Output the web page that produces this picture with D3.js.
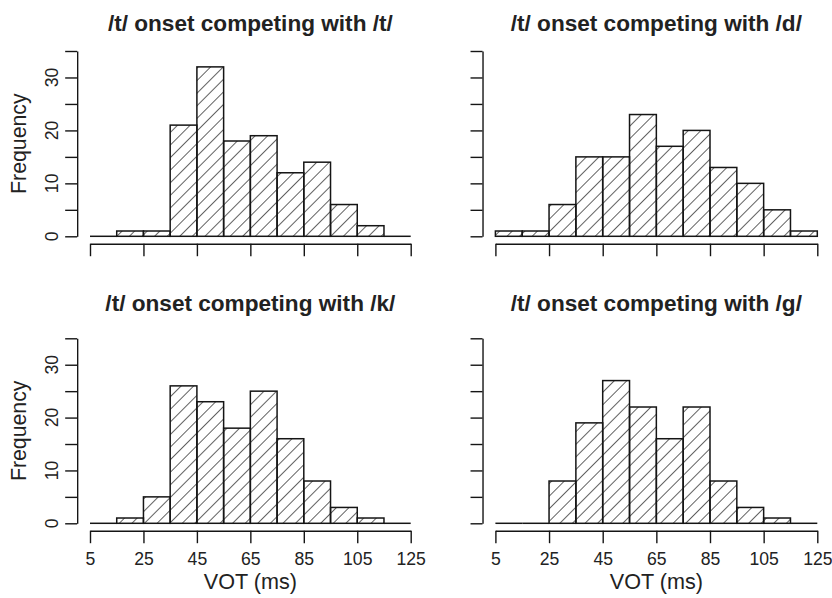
<!DOCTYPE html>
<html>
<head>
<meta charset="utf-8">
<script src="https://cdn.jsdelivr.net/npm/d3@7/dist/d3.min.js"></script>
<style>
  html, body { margin: 0; padding: 0; background: #fff; }
  svg { display: block; font-family: "Liberation Sans", Arial, Helvetica, sans-serif; }
</style>
</head>
<body>
<svg id="chart" width="832" height="598"></svg>
<script>
// ---- data ----
const breaks = [5, 15, 25, 35, 45, 55, 65, 75, 85, 95, 105, 115, 125];
const countsT = [0, 1, 1, 21, 32, 18, 19, 12, 14, 6, 2, 0];
const countsD = [1, 1, 6, 15, 15, 23, 17, 20, 13, 10, 5, 1];
const countsK = [0, 1, 5, 26, 23, 18, 25, 16, 8, 3, 1, 0];
const countsG = [0, 0, 8, 19, 27, 22, 16, 22, 8, 3, 1, 0];
const titles = ["/t/ onset competing with /t/", "/t/ onset competing with /d/",
                "/t/ onset competing with /k/", "/t/ onset competing with /g/"];
const xTicks = [5, 25, 45, 65, 85, 105, 125];
const yTicks = [0, 5, 10, 15, 20, 25, 30, 35];
const yLabels = [0, 10, 20, 30];
const xLabel = "VOT (ms)";
const yLabel = "Frequency";

const ink = "#151515";
const svg = d3.select("#chart");

// hatch pattern (45 degree lines)
const defs = svg.append("defs");
const pat = defs.append("pattern")
  .attr("id", "hatch")
  .attr("patternUnits", "userSpaceOnUse")
  .attr("width", 8.9).attr("height", 8.9)
  .attr("patternTransform", "rotate(45)");
pat.append("line")
  .attr("x1", 0).attr("y1", -1).attr("x2", 0).attr("y2", 10)
  .attr("stroke", ink).attr("stroke-width", 1.35);

const panels = [
  { counts: countsT, title: titles[0], x0: 90,    x1: 410.7, y0: 236.3, y1: 51.0,  left: true,  bottom: false },
  { counts: countsD, title: titles[1], x0: 495.4, x1: 817.3, y0: 236.3, y1: 51.0,  left: false, bottom: false },
  { counts: countsK, title: titles[2], x0: 90,    x1: 410.7, y0: 523.3, y1: 338.3, left: true,  bottom: true },
  { counts: countsG, title: titles[3], x0: 495.4, x1: 817.3, y0: 523.3, y1: 338.3, left: false, bottom: true }
];

panels.forEach(p => {
  const x = d3.scaleLinear().domain([5, 125]).range([p.x0, p.x1]);
  const y = d3.scaleLinear().domain([0, 35]).range([p.y0, p.y1]);
  const pxPerX = (p.x1 - p.x0) / 120;
  const pxPerY = (p.y0 - p.y1) / 35;
  const plotLeft = p.x0 - 4.8 * pxPerX;
  const plotRight = p.x1 + 4.8 * pxPerX;
  const plotBottom = p.y0 + 1.4 * pxPerY;
  const g = svg.append("g");

  const bins = p.counts.map((c, i) => ({ lo: breaks[i], hi: breaks[i + 1], c }));

  // bars
  g.selectAll("rect.bar").data(bins).enter().append("rect")
    .attr("class", "bar")
    .attr("x", d => x(d.lo))
    .attr("width", d => x(d.hi) - x(d.lo))
    .attr("y", d => y(d.c))
    .attr("height", d => y(0) - y(d.c))
    .attr("fill", "url(#hatch)")
    .attr("stroke", ink)
    .attr("stroke-width", 1.5);

  // zero-count bins: a line on the baseline
  g.selectAll("line.zero").data(bins.filter(d => d.c === 0)).enter().append("line")
    .attr("x1", d => x(d.lo)).attr("x2", d => x(d.hi))
    .attr("y1", y(0)).attr("y2", y(0))
    .attr("stroke", ink).attr("stroke-width", 1.5);

  // x axis
  const xAxis = d3.axisBottom(x).tickValues(xTicks).tickSize(12.5).tickSizeOuter(0)
    .tickFormat(p.bottom ? d3.format("d") : () => "");
  const gx = g.append("g").attr("transform", `translate(0,${plotBottom})`).call(xAxis);
  gx.select(".domain").attr("stroke", ink).attr("stroke-width", 1.4);
  gx.selectAll(".tick line").attr("stroke", ink).attr("stroke-width", 1.4);
  gx.selectAll(".tick text").attr("fill", "#222").attr("font-size", 17.6)
    .attr("dy", null).attr("y", 565.5 - plotBottom);

  // y axis
  const yAxis = d3.axisLeft(y).tickValues(yTicks).tickSize(12).tickSizeOuter(0).tickFormat(() => "");
  const gy = g.append("g").attr("transform", `translate(${plotLeft},0)`).call(yAxis);
  gy.select(".domain").attr("stroke", ink).attr("stroke-width", 1.4);
  gy.selectAll(".tick line").attr("stroke", ink).attr("stroke-width", 1.4);
  gy.selectAll(".tick text").remove();

  if (p.left) {
    g.selectAll("text.ylab").data(yLabels).enter().append("text")
      .attr("class", "ylab")
      .attr("transform", d => `translate(57.5,${y(d)}) rotate(-90)`)
      .attr("text-anchor", "middle")
      .attr("font-size", 17.6).attr("fill", "#222")
      .text(d => d);
    g.append("text")
      .attr("transform", `translate(25.5,${(plotBottom + (p.y1 - 1.4 * pxPerY)) / 2}) rotate(-90)`)
      .attr("text-anchor", "middle")
      .attr("font-size", 21.3).attr("fill", "#222")
      .text(yLabel);
  }
  if (p.bottom) {
    g.append("text")
      .attr("x", (plotLeft + plotRight) / 2).attr("y", 589)
      .attr("text-anchor", "middle")
      .attr("font-size", 21.6).attr("fill", "#222")
      .text(xLabel);
  }

  // title
  g.append("text")
    .attr("x", (plotLeft + plotRight) / 2)
    .attr("y", p.bottom ? 310.5 : 31)
    .attr("text-anchor", "middle")
    .attr("font-size", 22.6).attr("font-weight", "bold").attr("fill", "#222")
    .text(p.title);
});
</script>
</body>
</html>
